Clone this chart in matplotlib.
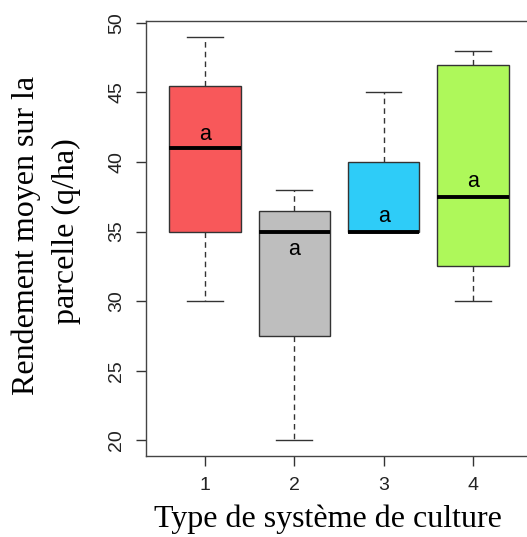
import matplotlib
matplotlib.use("Agg")
import matplotlib.pyplot as plt

categories = [1, 2, 3, 4]
whisker_low = [30, 20, 35, 30]
q1 = [35, 27.5, 35, 32.5]
medians = [41, 35, 35, 37.5]
q3 = [45.5, 36.5, 40, 47]
whisker_high = [49, 38, 45, 48]
letters = ["a", "a", "a", "a"]
letter_y = [42.0, 33.7, 36.1, 38.6]
colors = ["#F8585A", "#BEBEBE", "#2ECCF8", "#AEF85A"]
yticks = [20, 25, 30, 35, 40, 45, 50]

W, H = 527, 537
fig = plt.figure(figsize=(W / 100, H / 100), dpi=100)
ax = fig.add_axes([146 / W, 1 - 456.3 / H, (531.9 - 146) / W, (456.3 - 20.7) / H])

stats = []
for i in range(len(categories)):
    stats.append(dict(med=medians[i], q1=q1[i], q3=q3[i],
                      whislo=whisker_low[i], whishi=whisker_high[i], fliers=[]))

bp = ax.bxp(stats, positions=categories, widths=0.8, patch_artist=True,
            showfliers=False,
            boxprops=dict(edgecolor="#333333", linewidth=1.0),
            medianprops=dict(color="black", linewidth=2.8, solid_capstyle="butt"),
            whiskerprops=dict(color="#333333", linewidth=1.0, linestyle=(0, (4, 3))),
            capprops=dict(color="#333333", linewidth=1.0),
            capwidths=0.4)
for patch, c in zip(bp["boxes"], colors):
    patch.set_facecolor(c)

for x, y, t in zip(categories, letter_y, letters):
    ax.text(x, y, t, ha="center", va="center", fontsize=15.5,
            family="Liberation Sans", color="black")

ax.set_xlim(0.34, 4.66)
ax.set_ylim(18.84, 50.16)
ax.set_xticks(categories)
ax.set_xticklabels([str(c) for c in categories])
ax.set_yticks(yticks)
ax.set_yticklabels([str(v) for v in yticks], rotation=90, va="center")
for lab in ax.get_xticklabels() + ax.get_yticklabels():
    lab.set_family("Liberation Sans")
    lab.set_fontsize(14)
    lab.set_color("#222222")
ax.tick_params(axis="both", length=7, width=1, color="#333333", pad=8)
for s in ["left", "bottom", "top"]:
    ax.spines[s].set_color("#444444")
    ax.spines[s].set_linewidth(1.0)
ax.spines["right"].set_visible(False)

fig.text(327.5 / W, 1 - 527 / H, "Type de système de culture", ha="center",
         va="baseline", fontsize=23, family="Liberation Serif")
fig.text(26 / W, 1 - 235 / H, "Rendement moyen sur la", ha="center",
         va="center", rotation=90, fontsize=23, family="Liberation Serif")
fig.text(66 / W, 1 - 231.5 / H, "parcelle (q/ha)", ha="center",
         va="center", rotation=90, fontsize=23, family="Liberation Serif")

fig.savefig("out.png", dpi=100)
